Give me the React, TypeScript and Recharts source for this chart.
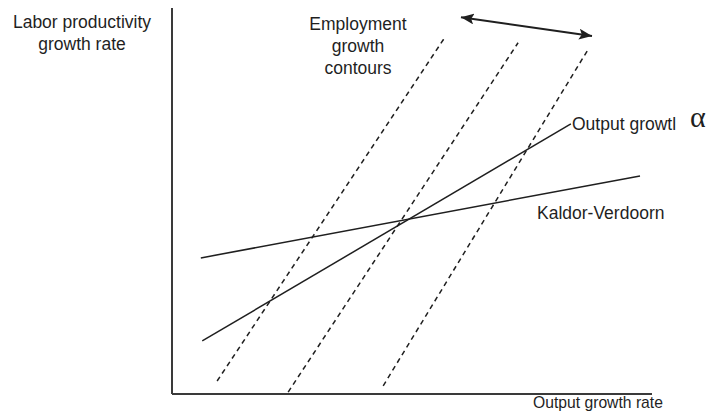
import React from "react";
import { LineChart, Line, XAxis, YAxis, ReferenceLine } from "recharts";

// values in chart units: output growth (x) 0..10, productivity growth (y) 0..8
const kaldorVerdoorn = [
  { x: 0.6, y: 2.82 },
  { x: 9.75, y: 4.52 },
];
const outputGrowth = [
  { x: 0.63, y: 1.1 },
  { x: 8.31, y: 5.6 },
];
const contourLow = [
  { x: 0.94, y: 0.27 },
  { x: 5.69, y: 7.4 },
];
const contourMid = [
  { x: 2.42, y: 0.04 },
  { x: 7.21, y: 7.28 },
];
const contourHigh = [
  { x: 4.4, y: 0.17 },
  { x: 8.65, y: 7.11 },
];
const shiftArrow = [
  { x: 6.02, y: 7.81 },
  { x: 8.75, y: 7.42 },
];

const ink = "#1f1f1f";
const axisInk = "#3a3a3a";
const font = "'Liberation Sans', Arial, sans-serif";

const label = (extra: React.CSSProperties): React.CSSProperties => ({
  position: "absolute",
  fontFamily: font,
  fontSize: 17.5,
  lineHeight: "22px",
  color: ink,
  whiteSpace: "nowrap",
  ...extra,
});

export default function App() {
  return (
    <div style={{ position: "absolute", left: 0, top: 0, width: 709, height: 416, background: "#fff" }}>
      <LineChart width={709} height={416} margin={{ top: 8, right: 57, bottom: 22, left: 172 }}>
        <defs>
          <marker id="head" viewBox="0 0 12 10" refX="12" refY="5" markerWidth="13" markerHeight="11"
            markerUnits="userSpaceOnUse" orient="auto-start-reverse">
            <path d="M0,0 L12,5 L0,10 L2.5,5 z" fill={ink} />
          </marker>
        </defs>
        <XAxis type="number" dataKey="x" domain={[0, 10]} hide allowDataOverflow />
        <YAxis type="number" dataKey="y" domain={[0, 8]} hide allowDataOverflow />
        <ReferenceLine x={0} stroke={axisInk} strokeWidth={2} />
        <ReferenceLine y={0} stroke={axisInk} strokeWidth={2} />
        <Line data={kaldorVerdoorn} dataKey="y" stroke={ink} strokeWidth={1.5} dot={false} isAnimationActive={false} />
        <Line data={outputGrowth} dataKey="y" stroke={ink} strokeWidth={1.5} dot={false} isAnimationActive={false} />
        <Line data={contourLow} dataKey="y" stroke={ink} strokeWidth={1.5} strokeDasharray="5 4" dot={false} isAnimationActive={false} />
        <Line data={contourMid} dataKey="y" stroke={ink} strokeWidth={1.5} strokeDasharray="5 4" dot={false} isAnimationActive={false} />
        <Line data={contourHigh} dataKey="y" stroke={ink} strokeWidth={1.5} strokeDasharray="5 4" dot={false} isAnimationActive={false} />
        <Line data={shiftArrow} dataKey="y" stroke={ink} strokeWidth={2} dot={false} isAnimationActive={false}
          markerStart="url(#head)" markerEnd="url(#head)" />
      </LineChart>

      <div style={label({ left: 0, top: 11, width: 164, textAlign: "center" })}>
        Labor productivity<br />growth rate
      </div>
      <div style={label({ left: 258, top: 13, width: 200, textAlign: "center" })}>
        Employment<br />growth<br />contours
      </div>
      <div style={label({ left: 572, top: 113 })}>Output growtl</div>
      <div style={label({ left: 537, top: 202 })}>Kaldor-Verdoorn</div>
      <div style={label({ left: 533, top: 393, fontSize: 15.7, lineHeight: "20px" })}>Output growth rate</div>
      <div style={{ position: "absolute", left: 690, top: 100, fontFamily: "'Liberation Serif', serif", fontSize: 30, lineHeight: "34px", color: ink }}>
        α
      </div>
    </div>
  );
}
